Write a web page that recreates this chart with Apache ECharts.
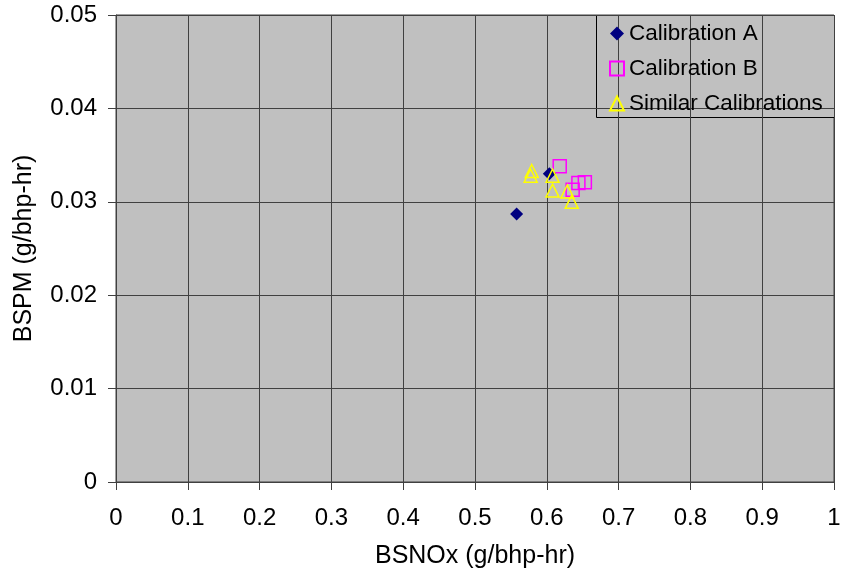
<!DOCTYPE html>
<html>
<head>
<meta charset="utf-8">
<script src="https://cdn.jsdelivr.net/npm/echarts@6/dist/echarts.min.js"></script>
<style>
html,body{margin:0;padding:0;background:#fff;}
#chart{width:842px;height:573px;}
</style>
</head>
<body>
<div id="chart"></div>
<script>
// Data
const seriesNames = ['Calibration A', 'Calibration B', 'Similar Calibrations'];
const calA_x = [0.558, 0.6035];
const calA_y = [0.0287, 0.0330];
const calB_x = [0.618, 0.653, 0.644, 0.636];
const calB_y = [0.0338, 0.0321, 0.0320, 0.0313];
const sim_x = [0.579, 0.5775, 0.608, 0.608, 0.6286, 0.6347];
const sim_y = [0.0333, 0.0328, 0.0328, 0.0312, 0.0311, 0.0300];
const xTickLabels = ['0','0.1','0.2','0.3','0.4','0.5','0.6','0.7','0.8','0.9','1'];
const yTickLabels = ['0','0.01','0.02','0.03','0.04','0.05'];
const xTitle = 'BSNOx (g/bhp-hr)';
const yTitle = 'BSPM (g/bhp-hr)';

const pairs = (xs, ys) => xs.map((x, i) => [x, ys[i]]);
const FONT = "'Liberation Sans', Arial, sans-serif";
const GRIDC = '#404040';

const chart = echarts.init(document.getElementById('chart'), null, {renderer: 'canvas'});
chart.setOption({
  animation: false,
  backgroundColor: '#ffffff',
  grid: {left: 116, right: 8, top: 15, bottom: 91, containLabel: false, outerBoundsMode: 'none',
    show: true, backgroundColor: '#C0C0C0', borderColor: GRIDC, borderWidth: 1},
  xAxis: {
    type: 'value', min: 0, max: 1, interval: 0.1,
    name: xTitle, nameLocation: 'middle', nameGap: 62,
    nameTextStyle: {fontFamily: FONT, fontSize: 25, color: '#000'},
    axisLine: {show: true, onZero: false, lineStyle: {color: GRIDC, width: 1}},
    axisTick: {show: true, length: 8, lineStyle: {color: GRIDC}},
    axisLabel: {fontFamily: FONT, fontSize: 24, color: '#000', margin: 24,
      formatter: v => xTickLabels[Math.round(v * 10)]},
    splitLine: {show: true, lineStyle: {color: GRIDC, width: 1}}
  },
  yAxis: {
    type: 'value', min: 0, max: 0.05, interval: 0.01,
    name: yTitle, nameLocation: 'middle', nameGap: 79,
    nameTextStyle: {fontFamily: FONT, fontSize: 25, color: '#000'},
    axisLine: {show: true, onZero: false, lineStyle: {color: GRIDC, width: 1}},
    axisTick: {show: true, length: 8, lineStyle: {color: GRIDC}},
    axisLabel: {fontFamily: FONT, fontSize: 24, color: '#000', margin: 19,
      formatter: v => yTickLabels[Math.round(v * 100)]},
    splitLine: {show: true, lineStyle: {color: GRIDC, width: 1}}
  },
  graphic: [{
    type: 'rect', left: 596, top: 15, z: 0,
    shape: {width: 238, height: 102},
    style: {fill: '#C0C0C0', stroke: '#000', lineWidth: 1}
  }],
  legend: {
    orient: 'vertical', left: 609, top: 22, itemGap: 12,
    itemWidth: 14, itemHeight: 14, padding: 0, z: 5,
    textStyle: {fontFamily: FONT, fontSize: 22.5, color: '#000'},
    data: seriesNames
  },
  series: [
    {name: seriesNames[0], type: 'scatter', symbol: 'diamond', symbolSize: 13,
     itemStyle: {color: '#000080', opacity: 1}, data: pairs(calA_x, calA_y), z: 3},
    {name: seriesNames[1], type: 'scatter', symbol: 'rect', symbolSize: 13,
     itemStyle: {color: 'rgba(0,0,0,0)', borderColor: '#FF00FF', borderWidth: 1.5, opacity: 1}, data: pairs(calB_x, calB_y), z: 2},
    {name: seriesNames[2], type: 'scatter', symbol: 'triangle', symbolSize: 13,
     itemStyle: {color: 'rgba(0,0,0,0)', borderColor: '#FFFF00', borderWidth: 1.5, opacity: 1}, data: pairs(sim_x, sim_y), z: 4}
  ]
});
</script>
</body>
</html>
